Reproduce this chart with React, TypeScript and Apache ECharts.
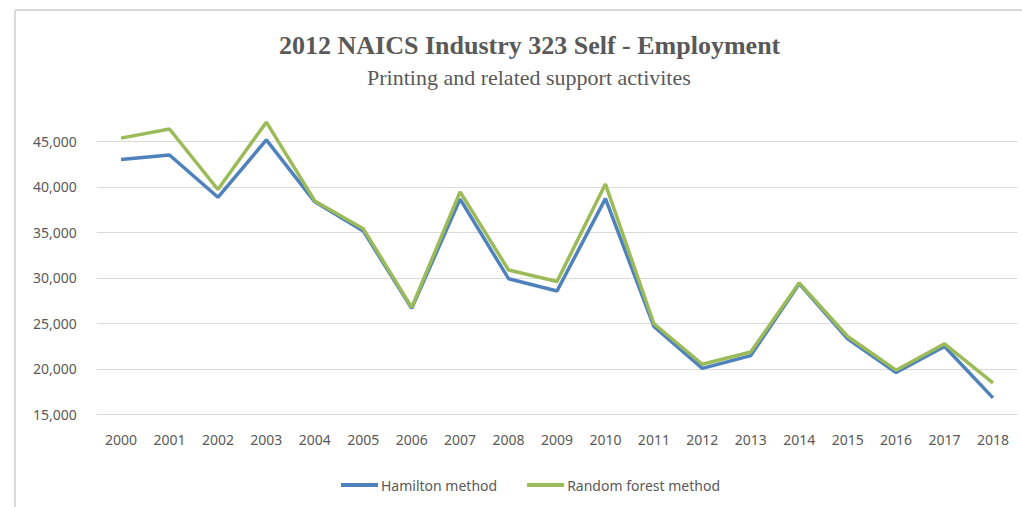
import React, { useEffect, useRef } from "react";
import * as echarts from "echarts";

const years = ["2000","2001","2002","2003","2004","2005","2006","2007","2008","2009","2010","2011","2012","2013","2014","2015","2016","2017","2018"];
const hamilton = [43000, 43500, 38850, 45150, 38350, 35150, 26650, 38650, 29900, 28550, 38700, 24650, 20050, 21450, 29350, 23300, 19600, 22450, 16800];
const randomForest = [45350, 46350, 39700, 47100, 38450, 35400, 26750, 39450, 30850, 29600, 40300, 24950, 20500, 21850, 29450, 23550, 19850, 22750, 18450];

const titleText = "2012 NAICS Industry 323 Self - Employment";
const subtitleText = "Printing and related support activites";

export default function App() {
  const ref = useRef<HTMLDivElement>(null);
  useEffect(() => {
    if (!ref.current) return;
    const chart = echarts.init(ref.current, null, { renderer: "svg" });
    const sans = "'Noto Sans', sans-serif";
    chart.setOption({
      animation: false,
      backgroundColor: "#ffffff",
      title: [
        {
          text: titleText,
          left: 274,
          top: 27,
          textStyle: { fontFamily: "'Liberation Serif', serif", fontWeight: "bold", fontSize: 26, color: "#595959" },
        },
        {
          text: subtitleText,
          left: 362,
          top: 61,
          textStyle: { fontFamily: "'Liberation Serif', serif", fontWeight: "normal", fontSize: 22, color: "#595959" },
        },
      ],
      graphic: [
        { type: "line", shape: { x1: 15, y1: 10, x2: 1022, y2: 10 }, style: { stroke: "#d9d9d9", lineWidth: 2 } },
        { type: "line", shape: { x1: 15, y1: 10, x2: 15, y2: 507 }, style: { stroke: "#d9d9d9", lineWidth: 2 } },
      ],
      legend: {
        left: 336,
        top: 473,
        icon: "rect",
        itemWidth: 37,
        itemHeight: 4,
        itemGap: 30,
        textStyle: { fontFamily: sans, fontSize: 14, color: "#595959", padding: [0, 0, 0, -2] },
        data: ["Hamilton method", "Random forest method"],
      },
      grid: { left: 96.8, right: 4.8, top: 141.3, bottom: 92.7, containLabel: false },
      xAxis: {
        type: "category",
        data: years,
        boundaryGap: true,
        axisLine: { show: true, lineStyle: { color: "#d9d9d9", width: 1 } },
        axisTick: { show: false },
        axisLabel: { margin: 18, fontFamily: sans, fontSize: 14, color: "#595959" },
      },
      yAxis: {
        type: "value",
        min: 15000,
        max: 45000,
        interval: 5000,
        axisLine: { show: false },
        axisTick: { show: false },
        splitLine: { lineStyle: { color: "#d9d9d9", width: 1 } },
        axisLabel: {
          margin: 20,
          fontFamily: sans,
          fontSize: 14,
          color: "#595959",
          formatter: (v: number) => v.toLocaleString("en-US"),
        },
      },
      series: [
        {
          name: "Hamilton method",
          type: "line",
          data: hamilton,
          clip: false,
          symbol: "none",
          itemStyle: { color: "#4f81bd" },
          lineStyle: { color: "#4f81bd", width: 3.5 },
        },
        {
          name: "Random forest method",
          type: "line",
          data: randomForest,
          clip: false,
          symbol: "none",
          itemStyle: { color: "#9bbb59" },
          lineStyle: { color: "#9bbb59", width: 3.5 },
        },
      ],
    });
    return () => chart.dispose();
  }, []);
  return <div ref={ref} style={{ position: "fixed", left: 0, top: 0, width: 1022, height: 507 }} />;
}
